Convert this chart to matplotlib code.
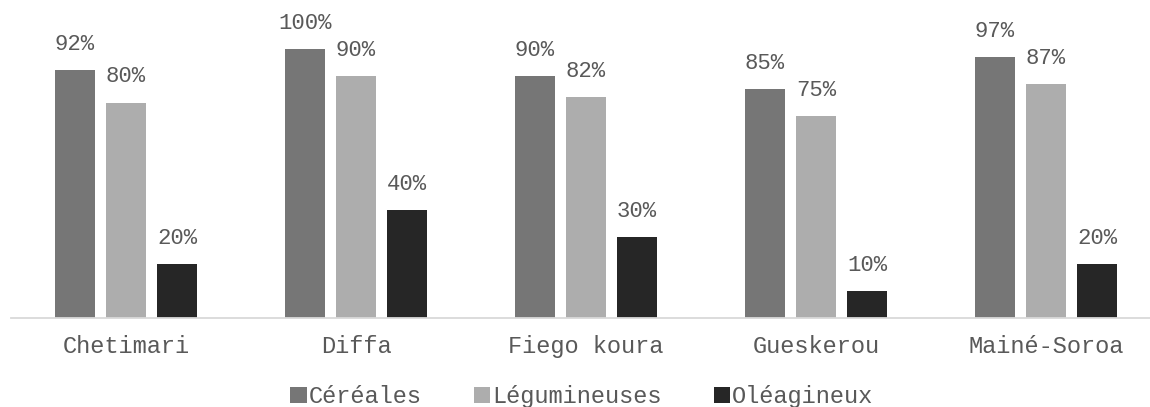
import matplotlib
matplotlib.use('Agg')

import numpy as np
import matplotlib.pyplot as plt

regions      = ["Chetimari", "Diffa", "Fiego koura", "Gueskerou", "Mainé-Soroa"]
cereales     = [92, 100, 90, 85, 97]
legumineuses = [80, 90, 82, 75, 87]
oleagineux   = [20, 40, 30, 10, 20]

series = [
    ("Céréales",     cereales,     "#767676"),
    ("Légumineuses", legumineuses, "#ADADAD"),
    ("Oléagineux",   oleagineux,   "#262626"),
]

TEXT = "#595959"
plt.rcParams['font.family'] = ['Liberation Mono', 'DejaVu Sans Mono']

fig = plt.figure(figsize=(11.5, 4.07), dpi=100)
ax = fig.add_axes([11 / 1150, 89 / 407, 1139 / 1150, 296 / 407])

x = np.arange(len(regions))
width = 0.174
step = 0.222

for k, (name, vals, color) in enumerate(series):
    pos = x + (k - 1) * step
    bars = ax.bar(pos, vals, width, color=color, label=name, zorder=2)
    for b, v in zip(bars, vals):
        ax.annotate(f"{v}%", (b.get_x() + b.get_width() / 2, v),
                    xytext=(0, 11), textcoords="offset points",
                    ha="center", va="bottom", fontsize=16, color=TEXT)

ax.set_xlim(-0.5, -0.5 + 1139 / 230)
ax.set_ylim(0, 110)
ax.set_yticks([])
ax.set_xticks(x)
ax.set_xticklabels(regions, fontsize=17, color=TEXT)
ax.tick_params(axis="x", length=0, pad=12)
for side in ("top", "right", "left"):
    ax.spines[side].set_visible(False)
ax.spines["bottom"].set_color("#D9D9D9")
ax.spines["bottom"].set_linewidth(1.3)

fig.legend(loc="center", bbox_to_anchor=(0.506, 0.026), ncol=3, frameon=False,
           fontsize=17, labelcolor=TEXT, handlelength=0.68, handleheight=0.68,
           handletextpad=0.1, columnspacing=2.2, borderpad=0)

fig.savefig("out.png", dpi=100)
